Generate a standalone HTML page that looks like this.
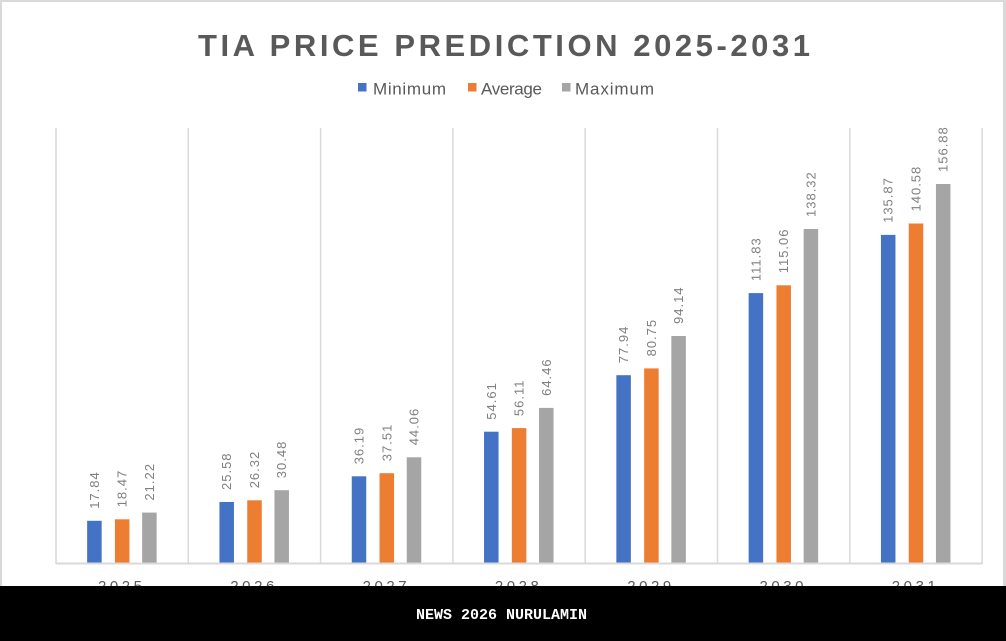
<!DOCTYPE html>
<html>
<head>
<meta charset="utf-8">
<style>
  html,body{margin:0;padding:0;background:#fff;}
  body{width:1006px;height:641px;overflow:hidden;}
  svg{display:block;}
  .lbl{font-family:"Liberation Sans",sans-serif;font-size:13px;fill:#7f7f7f;letter-spacing:1px;}
  .yr{font-family:"Liberation Sans",sans-serif;font-size:15px;fill:#595959;}
</style>
</head>
<body>
<svg width="1006" height="641" viewBox="0 0 1006 641" xmlns="http://www.w3.org/2000/svg">
  <rect x="0" y="0" width="1006" height="641" fill="#ffffff"/>
  <!-- frame borders -->
  <rect x="0" y="0" width="1006" height="2" fill="#d9d9d9"/>
  <rect x="0" y="0" width="2" height="641" fill="#d9d9d9"/>
  <rect x="1003" y="0" width="3" height="641" fill="#d9d9d9"/>

  <!-- title -->
  <text x="198" y="56" textLength="612" lengthAdjust="spacing" font-family="Liberation Sans, sans-serif" font-weight="bold" font-size="31" fill="#595959">TIA PRICE PREDICTION 2025-2031</text>

  <!-- legend -->
  <rect x="358" y="83" width="8.5" height="8.5" fill="#4472C4"/>
  <text x="373" y="94.5" textLength="73" lengthAdjust="spacing" font-family="Liberation Sans, sans-serif" font-size="17" fill="#595959">Minimum</text>
  <rect x="468" y="83" width="8.5" height="8.5" fill="#ED7D31"/>
  <text x="481" y="94.5" textLength="61" lengthAdjust="spacing" font-family="Liberation Sans, sans-serif" font-size="17" fill="#595959">Average</text>
  <rect x="562" y="83" width="8.5" height="8.5" fill="#A5A5A5"/>
  <text x="575" y="94.5" textLength="79" lengthAdjust="spacing" font-family="Liberation Sans, sans-serif" font-size="17" fill="#595959">Maximum</text>

  <!-- gridlines -->
  <g stroke="#d9d9d9" stroke-width="1.5">
    <line x1="56" y1="128" x2="56" y2="564"/>
    <line x1="188.3" y1="128" x2="188.3" y2="564"/>
    <line x1="320.6" y1="128" x2="320.6" y2="564"/>
    <line x1="452.9" y1="128" x2="452.9" y2="564"/>
    <line x1="585.2" y1="128" x2="585.2" y2="564"/>
    <line x1="717.5" y1="128" x2="717.5" y2="564"/>
    <line x1="849.8" y1="128" x2="849.8" y2="564"/>
    <line x1="982.1" y1="128" x2="982.1" y2="564"/>
  </g>

  <!-- bars -->
  <g>
    <rect x="87.15" y="520.8" width="14.5" height="43.2" fill="#4472C4"/>
    <rect x="114.95" y="519.3" width="14.5" height="44.7" fill="#ED7D31"/>
    <rect x="142.15" y="512.6" width="14.5" height="51.4" fill="#A5A5A5"/>

    <rect x="219.45" y="502.0" width="14.5" height="62.0" fill="#4472C4"/>
    <rect x="247.25" y="500.3" width="14.5" height="63.7" fill="#ED7D31"/>
    <rect x="274.45" y="490.2" width="14.5" height="73.8" fill="#A5A5A5"/>

    <rect x="351.75" y="476.3" width="14.5" height="87.7" fill="#4472C4"/>
    <rect x="379.55" y="473.2" width="14.5" height="90.8" fill="#ED7D31"/>
    <rect x="406.75" y="457.3" width="14.5" height="106.7" fill="#A5A5A5"/>

    <rect x="484.05" y="431.7" width="14.5" height="132.3" fill="#4472C4"/>
    <rect x="511.85" y="428.1" width="14.5" height="135.9" fill="#ED7D31"/>
    <rect x="539.05" y="407.9" width="14.5" height="156.1" fill="#A5A5A5"/>

    <rect x="616.35" y="375.2" width="14.5" height="188.8" fill="#4472C4"/>
    <rect x="644.15" y="368.4" width="14.5" height="195.6" fill="#ED7D31"/>
    <rect x="671.35" y="336.0" width="14.5" height="228.0" fill="#A5A5A5"/>

    <rect x="748.65" y="293.1" width="14.5" height="270.9" fill="#4472C4"/>
    <rect x="776.45" y="285.3" width="14.5" height="278.7" fill="#ED7D31"/>
    <rect x="803.65" y="229.0" width="14.5" height="335.0" fill="#A5A5A5"/>

    <rect x="880.95" y="234.9" width="14.5" height="329.1" fill="#4472C4"/>
    <rect x="908.75" y="223.5" width="14.5" height="340.5" fill="#ED7D31"/>
    <rect x="935.95" y="184.0" width="14.5" height="380.0" fill="#A5A5A5"/>
  </g>

  <!-- axis line -->
  <line x1="56" y1="563.5" x2="982" y2="563.5" stroke="#d9d9d9" stroke-width="2"/>

  <!-- data labels -->
  <g class="lbl">
    <text transform="translate(98.9,508.8) rotate(-90)">17.84</text>
    <text transform="translate(126.65,507.3) rotate(-90)">18.47</text>
    <text transform="translate(153.9,500.6) rotate(-90)">21.22</text>

    <text transform="translate(231.2,490.0) rotate(-90)">25.58</text>
    <text transform="translate(258.95,488.3) rotate(-90)">26.32</text>
    <text transform="translate(286.2,478.2) rotate(-90)">30.48</text>

    <text transform="translate(363.5,464.3) rotate(-90)">36.19</text>
    <text transform="translate(391.25,461.2) rotate(-90)">37.51</text>
    <text transform="translate(418.5,445.3) rotate(-90)">44.06</text>

    <text transform="translate(495.8,419.7) rotate(-90)">54.61</text>
    <text transform="translate(523.55,416.1) rotate(-90)">56.11</text>
    <text transform="translate(550.8,395.9) rotate(-90)">64.46</text>

    <text transform="translate(628.1,363.2) rotate(-90)">77.94</text>
    <text transform="translate(655.85,356.4) rotate(-90)">80.75</text>
    <text transform="translate(683.1,324.0) rotate(-90)">94.14</text>

    <text transform="translate(760.4,281.1) rotate(-90)">111.83</text>
    <text transform="translate(788.15,273.3) rotate(-90)">115.06</text>
    <text transform="translate(815.4,217.0) rotate(-90)">138.32</text>

    <text transform="translate(892.7,222.9) rotate(-90)">135.87</text>
    <text transform="translate(920.45,211.5) rotate(-90)">140.58</text>
    <text transform="translate(947.7,172.0) rotate(-90)">156.88</text>
  </g>

  <!-- year labels -->
  <g class="yr">
    <text x="98" y="591" textLength="44" lengthAdjust="spacing">2025</text>
    <text x="230.3" y="591" textLength="44" lengthAdjust="spacing">2026</text>
    <text x="362.6" y="591" textLength="44" lengthAdjust="spacing">2027</text>
    <text x="494.9" y="591" textLength="44" lengthAdjust="spacing">2028</text>
    <text x="627.2" y="591" textLength="44" lengthAdjust="spacing">2029</text>
    <text x="759.5" y="591" textLength="44" lengthAdjust="spacing">2030</text>
    <text x="891.8" y="591" textLength="44" lengthAdjust="spacing">2031</text>
  </g>

  <!-- footer band -->
  <rect x="0" y="586" width="1006" height="55" fill="#000000"/>
  <text x="416" y="619" textLength="171" lengthAdjust="spacing" font-family="Liberation Mono, monospace" font-weight="bold" font-size="15" fill="#ffffff">NEWS 2026 NURULAMIN</text>
</svg>
</body>
</html>
